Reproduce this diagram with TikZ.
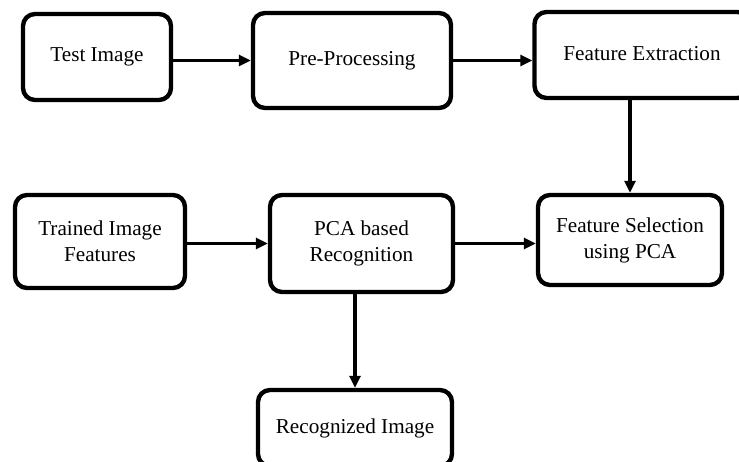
\documentclass[tikz,border=0pt]{standalone}
\usepackage{fontspec}
\setmainfont{Liberation Serif}
\usetikzlibrary{arrows.meta}
\begin{document}
\begin{tikzpicture}[x=1pt,y=-1pt,
  box/.style={draw,line width=4.4pt,rounded corners=12pt,align=center,
    inner sep=0pt,font=\fontsize{21.2}{26}\selectfont},
  conn/.style={line width=3.2pt,-{Triangle[length=12pt,width=11pt]}}]
\useasboundingbox (0,0) rectangle (739,462);
\clip (0,0) rectangle (739,462);
\node[box,minimum width=148pt,minimum height=86pt] (tst) at (97,57) {\raisebox{5pt}{Test Image}};
\node[box,minimum width=198pt,minimum height=95pt] (pre) at (352,60.5) {Pre-Processing};
\node[box,minimum width=215pt,minimum height=86pt] (fe) at (642,55) {\raisebox{4pt}{Feature Extraction}};
\node[box,minimum width=170pt,minimum height=93pt] (tr) at (100,241.5) {Trained Image\\Features};
\node[box,minimum width=183pt,minimum height=97pt] (pca) at (361.5,243.5) {PCA based\\Recognition};
\node[box,minimum width=184pt,minimum height=90pt] (fs) at (630,240) {Feature Selection\\using PCA};
\node[box,minimum width=194pt,minimum height=76pt] (rec) at (355,428) {Recognized Image};
\draw[conn] (pre.west -| tst.east) -- (pre.west);
\draw[conn] (pre.east) -- (pre.east -| fe.west);
\draw[conn] (fs.north |- fe.south) -- (fs.north);
\draw[conn] (pca.west -| tr.east) -- (pca.west);
\draw[conn] (pca.east) -- (pca.east -| fs.west);
\draw[conn] (rec.north |- pca.south) -- (rec.north);
\end{tikzpicture}
\end{document}
